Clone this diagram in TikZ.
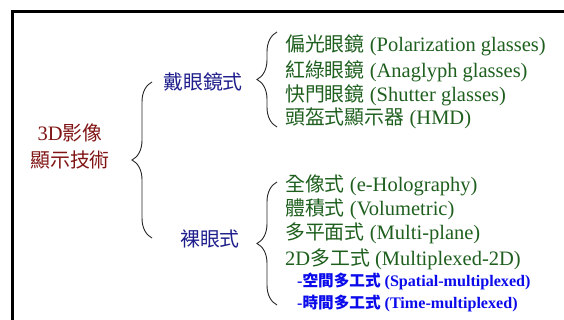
\documentclass[tikz,border=0pt]{standalone}
\usepackage{fontspec}
\setmainfont{Liberation Serif}
\newfontfamily\cjk[Scale=0.97]{Noto Sans CJK TC}
\newcommand{\zh}[1]{{\cjk #1}}
\usetikzlibrary{decorations.pathreplacing}
\definecolor{rootred}{RGB}{128,20,20}
\definecolor{grpblue}{RGB}{30,30,140}
\definecolor{itemgreen}{RGB}{30,95,30}
\definecolor{subblue}{RGB}{10,10,235}
\tikzset{
  rootlbl/.style={inner sep=0pt, text=rootred, align=center, font=\fontsize{20.5}{27}\selectfont},
  grplbl/.style={inner sep=0pt, text=grpblue, font=\fontsize{20.5}{24}\selectfont},
  itemlbl/.style={inner sep=0pt, anchor=base west, text=itemgreen, font=\fontsize{20.5}{24}\selectfont},
  sublbl/.style={inner sep=0pt, anchor=base west, text=subblue, font=\fontsize{16.1}{18}\selectfont\bfseries},
  bracedeco/.style={draw=black!85, line width=0.9pt, decorate, decoration={brace, amplitude=20pt}},
  framelines/.style={line width=3pt, draw=black}
}
\begin{document}
\begin{tikzpicture}[x=1pt,y=-1pt]
\clip (0,0) rectangle (564,320);
\useasboundingbox (0,0) rectangle (564,320);
\draw[framelines] (12,330) -- (12,12) -- (575,12);

\node[rootlbl] (root) at (70,146) {3D\zh{影像}\\\zh{顯示技術}};
\node[grplbl] (g1) at (203,82) {\zh{戴眼鏡式}};
\node[grplbl] (g2) at (210,239) {\zh{裸眼式}};

\coordinate (b0t) at (152,82);
\coordinate (b0b) at (152,238);
\coordinate (b1t) at (277,32);
\coordinate (b1b) at (277,127);
\coordinate (b2t) at (277,182);
\coordinate (b2b) at (277,305);
\draw[bracedeco] (b0b) -- (b0t);
\draw[bracedeco] (b1b) -- (b1t);
\draw[bracedeco] (b2b) -- (b2t);

\node[itemlbl] (a1) at (285,52) {\zh{偏光眼鏡} (Polarization glasses)};
\node[itemlbl] (a2) at (285,78) {\zh{紅綠眼鏡} (Anaglyph glasses)};
\node[itemlbl] (a3) at (285,102) {\zh{快門眼鏡} (Shutter glasses)};
\node[itemlbl] (a4) at (285,125) {\zh{頭盔式顯示器} (HMD)};

\node[itemlbl] (c1) at (285,192) {\zh{全像式} (e-Holography)};
\node[itemlbl] (c2) at (285,215) {\zh{體積式} (Volumetric)};
\node[itemlbl] (c3) at (285,240) {\zh{多平面式} (Multi-plane)};
\node[itemlbl] (c4) at (285,265) {2D\zh{多工式} (Multiplexed-2D)};
\node[sublbl] (d1) at (297,286) {-\zh{空間多工式} (Spatial-multiplexed)};
\node[sublbl] (d2) at (297,308) {-\zh{時間多工式} (Time-multiplexed)};
\end{tikzpicture}
\end{document}
